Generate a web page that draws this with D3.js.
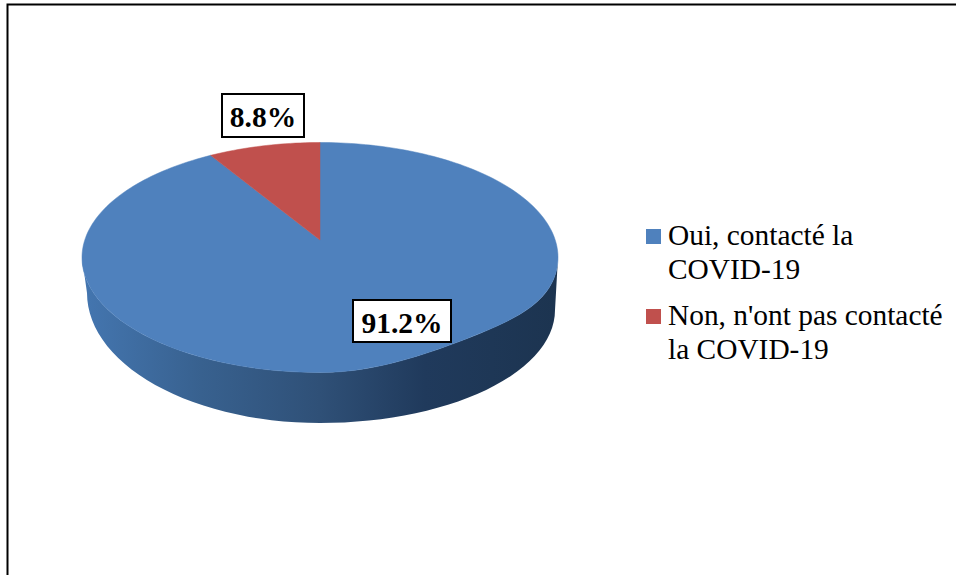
<!DOCTYPE html>
<html><head><meta charset="utf-8">
<script src="https://cdn.jsdelivr.net/npm/d3@7"></script>
<style>html,body{margin:0;padding:0;background:#fff}svg{display:block}</style>
</head><body><svg id="c" width="956" height="575"></svg>
<script>
const categories = ["Oui, contacté la COVID-19", "Non, n'ont pas contacté la COVID-19"];
const legendLines = [["Oui, contacté la", "COVID-19"], ["Non, n'ont pas contacté", "la COVID-19"]];
const values = [91.2, 8.8];
const valueLabels = ["91.2%", "8.8%"];
const colors = ["#4f81bd", "#c0504d"];

const svg = d3.select("#c");
const W = 956, H = 575;
const serif = "'Liberation Serif','Times New Roman',serif";

// Frame
svg.append("path").attr("d", `M7.5 575V4.5H${W}`).attr("fill", "none").attr("stroke", "#000").attr("stroke-width", 2);

// Side gradient
const defs = svg.append("defs");
const g = defs.append("linearGradient").attr("id", "side");
[[0, "#4476b0"], [0.25, "#38618f"], [0.5, "#2f5077"], [0.72, "#203a5c"], [1, "#1c3450"]].forEach(s =>
  g.append("stop").attr("offset", s[0]).attr("stop-color", s[1]));

// Pie layout: clockwise from 12 o'clock, the small slice ending at the top
const slices = d3.pie().sort(null).value(d => d).startAngle(0).endAngle(2 * Math.PI)(values);

// Perspective mapping of the unit disc on the top face ellipse
const cx = 320, cy = 257.5, rx = 238, ry = 115, a = -0.152;
const sx = d3.scaleLinear().domain([-1, 1]).range([cx - rx, cx + rx]);
const sy = d3.scaleLinear().domain([-1, 1]).range([cy - ry, cy + ry]);
// The near right quadrant of the reference's rim is slightly flatter than an ellipse
const flat = (X, Y) => (X > 0 && Y > 0) ? Y * (1 - 0.44 * X * X * Y * Y) : Y;
function project(r, t) {
  const x = r * Math.sin(t), y = -r * Math.cos(t), d = 1 + a * y;
  const X = x * Math.sqrt(1 - a * a) / d, Y = (y + a) / d;
  return [sx(X), sy(flat(X, Y))];
}
const line = d3.line();
function arcPts(s) {
  const n = Math.max(8, Math.ceil((s.endAngle - s.startAngle) * 40));
  return d3.range(n + 1).map(i => project(1, s.startAngle + (s.endAngle - s.startAngle) * i / n));
}

// Extruded side: top rim's lower half + lower edge
const ts = d3.range(0, 181, 3).map(d => d * Math.PI / 180);
const lower = t => t <= Math.PI / 2
  ? [cx + 235 * Math.cos(t), 310 + 113 * Math.sin(t)]
  : [cx + 233 * Math.cos(t), 293 + 130 * Math.sin(t)];
const sidePts = ts.map(t => [sx(Math.cos(t)), sy(flat(Math.cos(t), Math.sin(t)))])
  .concat(ts.slice().reverse().map(lower));
svg.append("path").attr("d", line(sidePts) + "Z").attr("fill", "url(#side)");

// Top face
svg.selectAll("path.slice").data(slices).join("path").attr("class", "slice")
  .attr("d", d => line([project(0, 0), ...arcPts(d)]) + "Z")
  .attr("fill", (d, i) => colors[i])
  .attr("stroke", (d, i) => colors[i]).attr("stroke-width", 0.5);

// Value labels
const boxes = [[353, 300, 98, 42], [222, 94, 82, 43]];
valueLabels.forEach((t, i) => {
  const b = boxes[i];
  svg.append("rect").attr("x", b[0]).attr("y", b[1]).attr("width", b[2]).attr("height", b[3])
    .attr("fill", "#fff").attr("stroke", "#000").attr("stroke-width", 2);
  svg.append("text").attr("x", b[0] + b[2] / 2).attr("y", b[1] + 33).attr("text-anchor", "middle")
    .attr("font-family", serif).attr("font-weight", "bold").attr("font-size", 29.5).attr("fill", "#000").text(t);
});

// Legend
const legY = [245, 325];
legendLines.forEach((ls, i) => {
  svg.append("rect").attr("x", 646).attr("y", legY[i] - 16).attr("width", 15).attr("height", 15).attr("fill", colors[i]);
  const txt = svg.append("text").attr("font-family", serif).attr("font-size", 29.4).attr("fill", "#000");
  ls.forEach((l, j) => txt.append("tspan").attr("x", 668).attr("y", legY[i] + j * 34).text(l));
});
</script></body></html>
